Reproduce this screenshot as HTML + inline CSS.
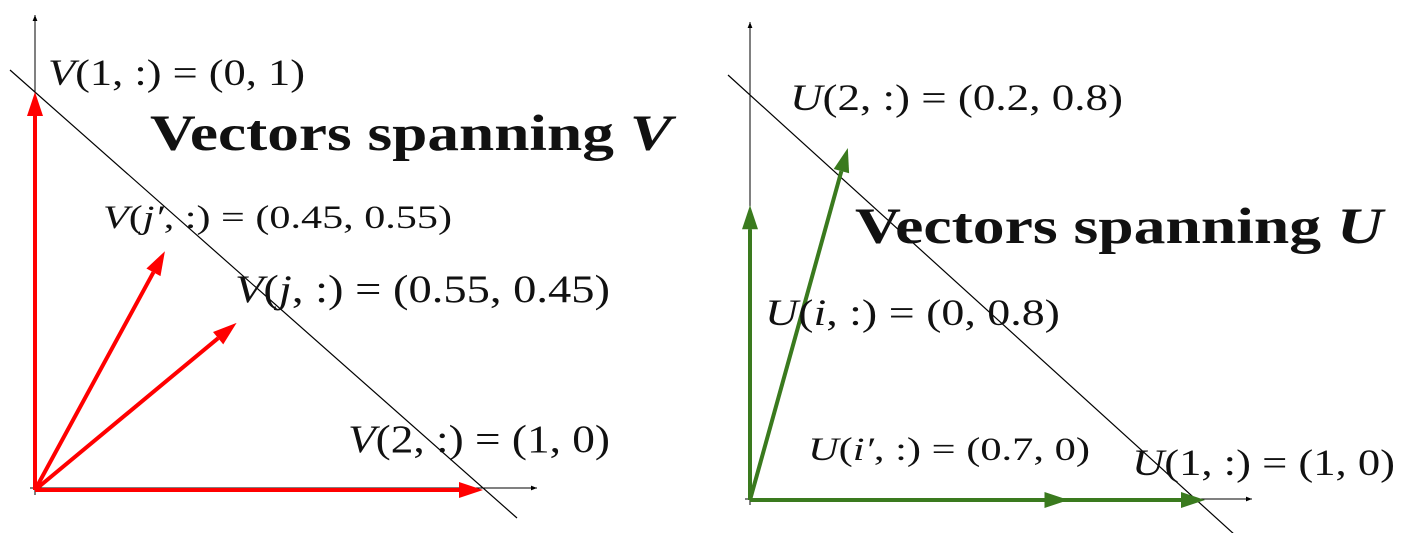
<!DOCTYPE html>
<html><head><meta charset="utf-8"><style>
html,body{margin:0;padding:0;background:#fff;}
svg{display:block;}
text{font-family:"Liberation Serif",serif;fill:#111;}
.m{font-size:37px;}
.t{font-size:51px;font-weight:bold;}
</style></head><body>
<svg id="chart" width="1403" height="533" viewBox="0 0 1403 533" xmlns="http://www.w3.org/2000/svg">
<defs>
<marker id="ax" viewBox="0 0 10 10" refX="10" refY="5" markerWidth="6" markerHeight="6" orient="auto"><path d="M0,1 L10,5 L0,9 z" fill="#000"/></marker>
</defs>
<g id="left">
<line x1="30" y1="488" x2="537" y2="488" stroke="#000" stroke-width="1" marker-end="url(#ax)"/>
<line x1="35" y1="495" x2="35" y2="15" stroke="#000" stroke-width="1" marker-end="url(#ax)"/>
<line x1="10" y1="70" x2="517" y2="518" stroke="#000" stroke-width="1.2"/>
<g id="vArrows"></g>
<text class="m" x="48" y="85" textLength="257" lengthAdjust="spacingAndGlyphs"><tspan font-style="italic">V</tspan>(1, :) = (0, 1)</text>
<text class="t" x="150" y="150" textLength="522" lengthAdjust="spacingAndGlyphs">Vectors spanning <tspan font-style="italic">V</tspan></text>
<text class="m" style="font-size:33px" x="103" y="228" textLength="349" lengthAdjust="spacingAndGlyphs"><tspan font-style="italic">V</tspan>(<tspan font-style="italic">j′</tspan>, :) = (0.45, 0.55)</text>
<text class="m" style="font-size:39px" x="235" y="302" textLength="375" lengthAdjust="spacingAndGlyphs"><tspan font-style="italic">V</tspan>(<tspan font-style="italic">j</tspan>, :) = (0.55, 0.45)</text>
<text class="m" style="font-size:39px" x="348" y="452" textLength="262" lengthAdjust="spacingAndGlyphs"><tspan font-style="italic">V</tspan>(2, :) = (1, 0)</text>
</g>
<g id="right">
<line x1="745" y1="499" x2="1252" y2="499" stroke="#000" stroke-width="1" marker-end="url(#ax)"/>
<line x1="750" y1="505" x2="750" y2="22" stroke="#000" stroke-width="1" marker-end="url(#ax)"/>
<line x1="728" y1="75" x2="1235" y2="535" stroke="#000" stroke-width="1.2"/>
<g id="uArrows"></g>
<text class="m" x="790" y="110" textLength="333" lengthAdjust="spacingAndGlyphs"><tspan font-style="italic">U</tspan>(2, :) = (0.2, 0.8)</text>
<text class="t" x="855" y="243" textLength="528" lengthAdjust="spacingAndGlyphs">Vectors spanning <tspan font-style="italic">U</tspan></text>
<text class="m" x="765" y="325" textLength="295" lengthAdjust="spacingAndGlyphs"><tspan font-style="italic">U</tspan>(<tspan font-style="italic">i</tspan>, :) = (0, 0.8)</text>
<text class="m" style="font-size:33px" x="808" y="460" textLength="282" lengthAdjust="spacingAndGlyphs"><tspan font-style="italic">U</tspan>(<tspan font-style="italic">i′</tspan>, :) = (0.7, 0)</text>
<text class="m" x="1132" y="475" textLength="263" lengthAdjust="spacingAndGlyphs"><tspan font-style="italic">U</tspan>(1, :) = (1, 0)</text>
</g>
</svg>
<script>
// vectors (drawn positions)
const vNames=["v1","v2","vjprime","vj"];
const vX=[0,1,0.29,0.45];
const vY=[1,0,0.60,0.42];
const uNames=["u2","ui","uiprime","u1"];
const uX=[0.215,0,0.7,1];
const uY=[0.8,0.67,0,0];

const NS="http://www.w3.org/2000/svg";
function vxS(v){return 35+v*448;}
function vyS(v){return 490-v*398;}
function uxS(v){return 750+v*455;}
function uyS(v){return 500-v*440;}
function arrow(g,x0,y0,x1,y1,col,name){
  const dx=x1-x0,dy=y1-y0,L=Math.hypot(dx,dy),ux=dx/L,uy=dy/L,h=24,w=8;
  const bx=x1-ux*h,by=y1-uy*h;
  const ln=document.createElementNS(NS,"line");
  ln.setAttribute("x1",x0);ln.setAttribute("y1",y0);ln.setAttribute("x2",bx);ln.setAttribute("y2",by);
  ln.setAttribute("stroke",col);ln.setAttribute("stroke-width","4");
  
  
  g.appendChild(ln);
  const p=document.createElementNS(NS,"polygon");
  p.setAttribute("points",x1+","+y1+" "+(bx-uy*w)+","+(by+ux*w)+" "+(bx+uy*w)+","+(by-ux*w));
  p.setAttribute("fill",col);
  
  
  g.appendChild(p);
}
const vg=document.getElementById("vArrows");
for(let i=0;i<vX.length;i++)arrow(vg,vxS(0),vyS(0),vxS(vX[i]),vyS(vY[i]),"#ff0000","arrow-"+vNames[i]);
const ug=document.getElementById("uArrows");
for(let i=0;i<uX.length;i++)arrow(ug,uxS(0),uyS(0),uxS(uX[i]),uyS(uY[i]),"#3a7a1e","arrow-"+uNames[i]);
</script>
</body></html>
